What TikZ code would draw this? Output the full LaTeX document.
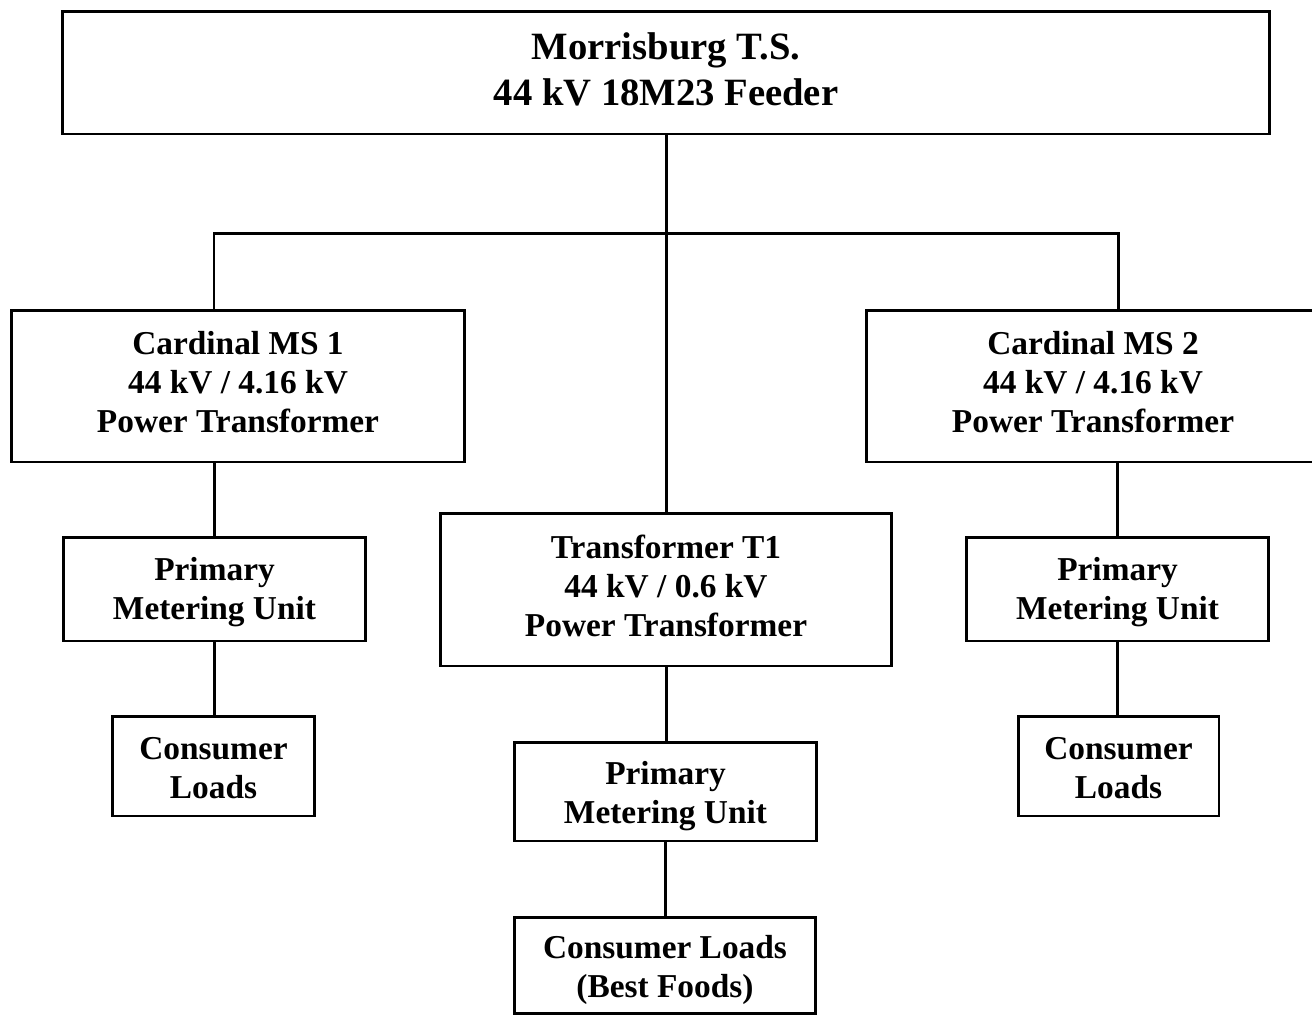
\documentclass[tikz,border=0pt]{standalone}
\usepackage{fontspec}
\setmainfont{Liberation Serif}
\begin{document}
\begin{tikzpicture}[x=0.02cm,y=-0.02cm,
  frame/.style={draw=black,line width=1.7pt,rectangle,inner sep=0pt},
  txt/.style={inner sep=0pt,align=center,font=\fontsize{19}{22.2}\selectfont\bfseries},
  bigtxt/.style={txt,font=\fontsize{22}{26.2}\selectfont\bfseries},
  wire/.style={line width=1.7pt,line cap=rect}]
\useasboundingbox (0,0) rectangle (1312,1015);
\clip (0,0) rectangle (1312,1015);
\fill[white] (0,0) rectangle (1312,1015);
% frames
\node[frame,minimum width=24.16cm,minimum height=2.46cm] (top) at (666,72.5) {};
\node[frame,minimum width=9.08cm,minimum height=3.04cm] (ms1) at (238,386) {};
\node[frame,minimum width=9.08cm,minimum height=3.04cm] (ms2) at (1093,386) {};
\node[frame,minimum width=9.04cm,minimum height=3.06cm] (t1) at (666,589.5) {};
\node[frame,minimum width=6.06cm,minimum height=2.08cm] (pmu1) at (214.5,589) {};
\node[frame,minimum width=6.06cm,minimum height=2.08cm] (pmu2) at (1117.5,589) {};
\node[frame,minimum width=6.04cm,minimum height=1.98cm] (pmu3) at (665.5,791.5) {};
\node[frame,minimum width=4.04cm,minimum height=2.0cm] (cl1) at (213.5,766) {};
\node[frame,minimum width=4.02cm,minimum height=2.0cm] (cl2) at (1118.5,766) {};
\node[frame,minimum width=6.02cm,minimum height=1.92cm] (cl3) at (665,965) {};
% texts
\node[bigtxt] (topT) at (666,69.5) {Morrisburg T.S.\\44 kV 18M23 Feeder};
\node[txt] (ms1T) at (238,382) {Cardinal MS 1\\44 kV / 4.16 kV\\Power Transformer};
\node[txt] (ms2T) at (1093,382) {Cardinal MS 2\\44 kV / 4.16 kV\\Power Transformer};
\node[txt] (t1T) at (666,585.5) {Transformer T1\\44 kV / 0.6 kV\\Power Transformer};
\node[txt] (pmu1T) at (214.5,592.5) {Primary\\Metering Unit};
\node[txt] (pmu2T) at (1117.5,592.5) {Primary\\Metering Unit};
\node[txt] (pmu3T) at (665.5,796) {Primary\\Metering Unit};
\node[txt] (cl1T) at (213.5,768) {Consumer\\Loads};
\node[txt] (cl2T) at (1118.5,768) {Consumer\\Loads};
\node[txt] (cl3T) at (665,970) {Consumer Loads\\(Best Foods)};
% connectors
\coordinate (b1) at (214,233);
\coordinate (b2) at (1118,233);
\draw[wire] (top.south) -- (t1.north);
\draw[wire] (b1) -- (b2);
\draw[wire] (b1) -- (b1 |- ms1.north);
\draw[wire] (b2) -- (b2 |- ms2.north);
\draw[wire] (pmu1.north |- ms1.south) -- (pmu1.north);
\draw[wire] (pmu2.north |- ms2.south) -- (pmu2.north);
\draw[wire] (pmu1.south) -- (pmu1.south |- cl1.north);
\draw[wire] (pmu2.south) -- (pmu2.south |- cl2.north);
\draw[wire] (t1.south) -- (t1.south |- pmu3.north);
\draw[wire] (pmu3.south) -- (pmu3.south |- cl3.north);
\end{tikzpicture}
\end{document}
